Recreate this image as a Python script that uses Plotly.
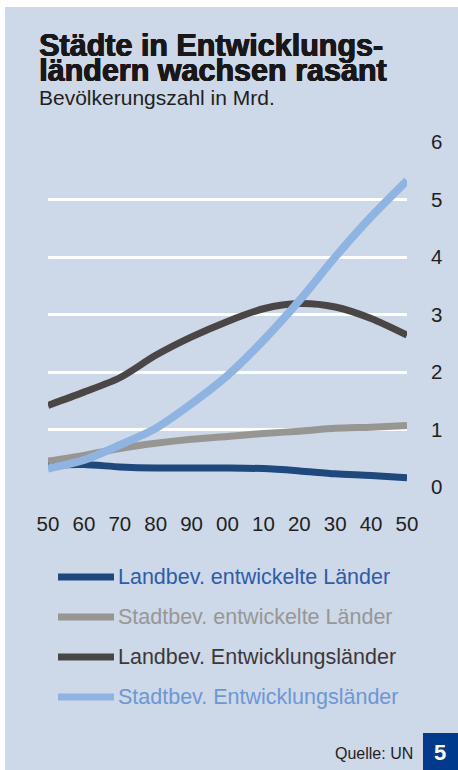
import plotly.graph_objects as go

# ---- data ----
years = [1950, 1960, 1970, 1980, 1990, 2000, 2010, 2020, 2030, 2040, 2050]
land_entwickelt = [0.38, 0.39, 0.35, 0.33, 0.33, 0.33, 0.32, 0.28, 0.23, 0.20, 0.16]
stadt_entwickelt = [0.45, 0.55, 0.67, 0.76, 0.83, 0.88, 0.93, 0.97, 1.02, 1.04, 1.07]
land_entwicklung = [1.42, 1.65, 1.90, 2.29, 2.61, 2.88, 3.10, 3.19, 3.13, 2.93, 2.64]
stadt_entwicklung = [0.32, 0.47, 0.73, 1.02, 1.45, 1.94, 2.55, 3.24, 4.00, 4.70, 5.33]

series_names = [
    "Landbev. entwickelte Länder",
    "Stadtbev. entwickelte Länder",
    "Landbev. Entwicklungsländer",
    "Stadtbev. Entwicklungsländer",
]
series_values = [land_entwickelt, stadt_entwickelt, land_entwicklung, stadt_entwicklung]
line_colors = ["#1f497d", "#989693", "#4b4646", "#8fb4e2"]
line_widths = [7, 7, 7, 8]
label_colors = ["#2f5ca8", "#979797", "#3d3838", "#6e97d2"]

y_tick_vals = [0, 1, 2, 3, 4, 5, 6]
x_tick_labels = ["50", "60", "70", "80", "90", "00", "10", "20", "30", "40", "50"]

title_line1 = "Städte in Entwicklungs-"
title_line2 = "ländern wachsen rasant"
subtitle = "Bevölkerungszahl in Mrd."
source = "Quelle: UN"
page_no = "5"

# ---- layout geometry ----
W, H = 458, 770
ML, MR, MT, MB = 48, 51, 142, 283
PW, PH = W - ML - MR, H - MT - MB
PANEL = "#cdd8e9"
FONT = "Liberation Sans, Arial, sans-serif"
TITLE_COL = "#1a1718"
HEAVY = (f"0.7px 0 0 {TITLE_COL}, -0.3px 0 0 {TITLE_COL}, "
         f"0 0.4px 0 {TITLE_COL}, 0.4px 0.4px 0 {TITLE_COL}")


def px2x(px):
    return (px - ML) / PW


def px2y(py):
    return 1 - (py - MT) / PH


fig = go.Figure()
for name, vals, col, lw in zip(series_names, series_values, line_colors, line_widths):
    fig.add_trace(go.Scatter(
        x=years, y=vals, name=name, mode="lines",
        line=dict(color=col, width=lw, shape="spline", smoothing=0.8),
        cliponaxis=False, showlegend=False, hoverinfo="skip",
    ))

shapes = [
    # white strips at the left and top edges
    dict(type="rect", xref="paper", yref="paper", x0=px2x(0), x1=px2x(5),
         y0=px2y(H), y1=px2y(0), fillcolor="white", line_width=0, layer="below"),
    dict(type="rect", xref="paper", yref="paper", x0=px2x(0), x1=px2x(W),
         y0=px2y(7), y1=px2y(0), fillcolor="white", line_width=0, layer="below"),
    # page number box
    dict(type="rect", xref="paper", yref="paper", x0=px2x(423), x1=px2x(W),
         y0=px2y(H), y1=px2y(733), fillcolor="#003a8c", line_width=0, layer="above"),
]

annotations = [
    dict(text=title_line1, x=px2x(37), y=px2y(45.5), xanchor="left", yanchor="middle",
         font=dict(family=FONT, size=30.5, color=TITLE_COL, weight="bold", shadow=HEAVY)),
    dict(text=title_line2, x=px2x(37), y=px2y(70), xanchor="left", yanchor="middle",
         font=dict(family=FONT, size=30.5, color=TITLE_COL, weight="bold", shadow=HEAVY)),
    dict(text=subtitle, x=px2x(37), y=px2y(97.5), xanchor="left", yanchor="middle",
         font=dict(family=FONT, size=21, color="#231f20")),
    dict(text=source, x=px2x(415), y=px2y(753), xanchor="right", yanchor="middle",
         font=dict(family=FONT, size=16, color="#231f20")),
    dict(text=page_no, x=px2x(440), y=px2y(752), xanchor="center", yanchor="middle",
         font=dict(family=FONT, size=22, color="white", weight="bold")),
]

leg_y = [577, 617, 657, 697]
for name, lc, tc, ly in zip(series_names, line_colors, label_colors, leg_y):
    shapes.append(dict(type="line", xref="paper", yref="paper",
                       x0=px2x(58), x1=px2x(114), y0=px2y(ly), y1=px2y(ly),
                       line=dict(color=lc, width=7), layer="above"))
    annotations.append(dict(text=name, x=px2x(116), y=px2y(ly), xanchor="left",
                            yanchor="middle",
                            font=dict(family=FONT, size=21.5, color=tc)))

for a in annotations:
    a.update(xref="paper", yref="paper", showarrow=False)

fig.update_layout(
    width=W, height=H,
    margin=dict(l=ML, r=MR, t=MT, b=MB, pad=0),
    paper_bgcolor=PANEL, plot_bgcolor="rgba(0,0,0,0)",
    font=dict(family=FONT, size=20, color="#231f20"),
    shapes=shapes, annotations=annotations,
    showlegend=False,
)
fig.update_xaxes(
    range=[1950, 2050], tickvals=years, ticktext=x_tick_labels,
    showgrid=False, zeroline=False, showline=False, ticks="",
    ticklabelstandoff=22, tickfont=dict(size=20.5, color="#231f20"),
    fixedrange=True,
)
fig.update_yaxes(
    range=[0, 6], tickvals=y_tick_vals, side="right",
    showgrid=True, gridcolor="white", gridwidth=2.5,
    zeroline=False, showline=False, ticks="",
    ticklabelstandoff=23, tickfont=dict(size=20.5, color="#231f20"),
    fixedrange=True,
)

fig.write_html(
    "out.html",
    config={"displayModeBar": False},
    post_script="document.body.style.margin='0';document.body.style.overflow='hidden';",
)
